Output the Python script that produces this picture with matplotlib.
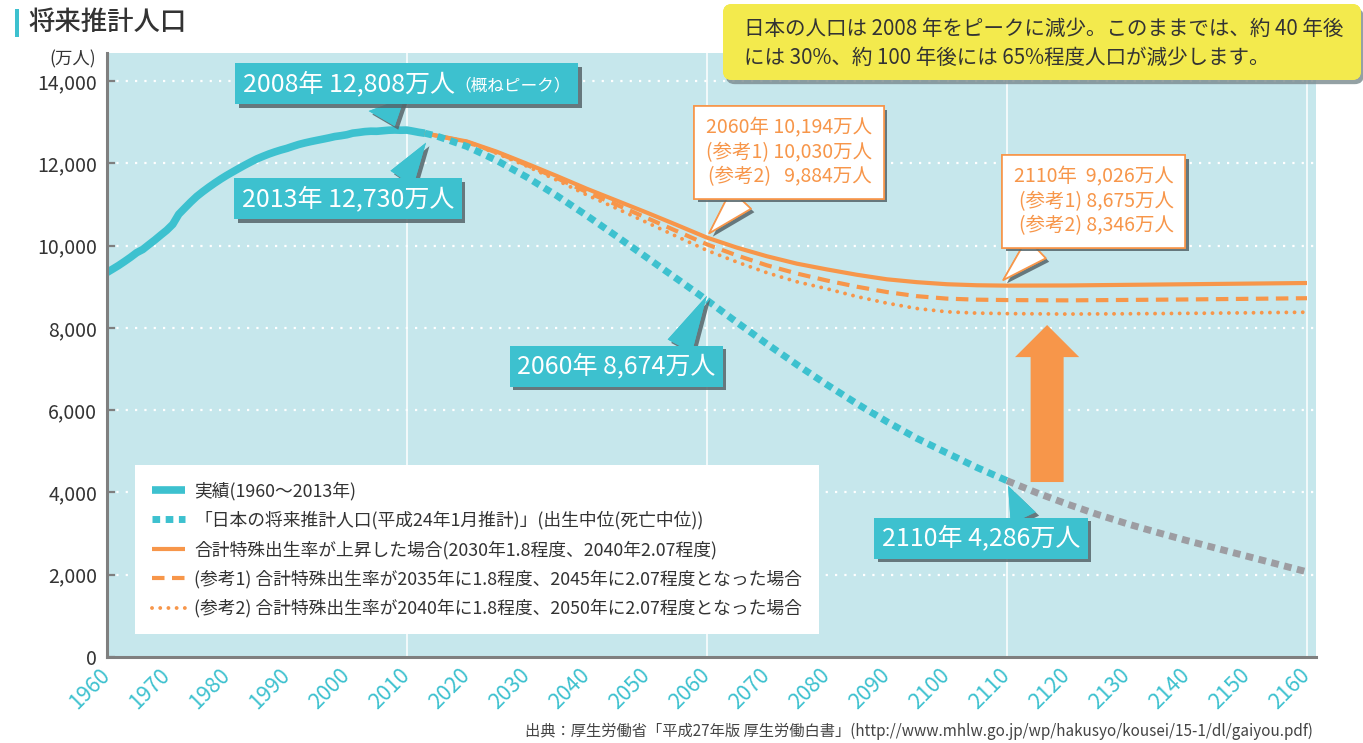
import matplotlib
matplotlib.use('Agg')
import matplotlib.pyplot as plt
import matplotlib.patheffects as pe
from matplotlib.patches import FancyBboxPatch, Rectangle
from matplotlib.transforms import IdentityTransform
from matplotlib.offsetbox import TextArea, HPacker, AnnotationBbox
from matplotlib.ticker import FuncFormatter

plt.rcParams['font.family'] = ['Noto Sans CJK JP', 'DejaVu Sans']

# ---------------- data (万人) ----------------
actual_years = list(range(1960, 2014))
actual_pop = [9342, 9429, 9518, 9616, 9718, 9828, 9904, 10020, 10133, 10254,
              10372, 10515, 10760, 10910, 11057, 11194, 11309, 11417, 11519, 11616,
              11706, 11790, 11873, 11954, 12031, 12105, 12166, 12224, 12275, 12321,
              12361, 12410, 12457, 12494, 12527, 12557, 12586, 12616, 12649, 12669,
              12693, 12732, 12749, 12769, 12779, 12777, 12790, 12803, 12808, 12803,
              12806, 12780, 12752, 12730]

proj_years = [2013, 2015, 2020, 2025, 2030, 2035, 2040, 2045, 2050, 2055, 2060,
              2065, 2070, 2075, 2080, 2085, 2090, 2095, 2100, 2105, 2110]
proj_pop = [12730, 12660, 12410, 12066, 11662, 11212, 10728, 10221, 9708, 9193, 8674,
            8135, 7610, 7106, 6620, 6157, 5720, 5314, 4959, 4606, 4286]

ext_years = [2110, 2115, 2120, 2125, 2130, 2135, 2140, 2145, 2150, 2155, 2160]
ext_pop = [4286, 3990, 3720, 3470, 3240, 3030, 2830, 2640, 2450, 2260, 2070]

scen_years = [2013, 2015, 2020, 2025, 2030, 2035, 2040, 2045, 2050, 2055, 2060,
              2065, 2070, 2075, 2080, 2085, 2090, 2095, 2100, 2105, 2110,
              2120, 2130, 2140, 2150, 2160]
high_pop = [12730, 12670, 12530, 12280, 11990, 11690, 11380, 11090, 10800, 10500, 10194,
            9950, 9740, 9560, 9420, 9290, 9180, 9110, 9060, 9035, 9026,
            9030, 9045, 9060, 9075, 9090]
ref1_pop = [12730, 12670, 12520, 12260, 11960, 11640, 11300, 10990, 10670, 10350, 10030,
            9760, 9520, 9320, 9150, 9000, 8870, 8770, 8710, 8685, 8675,
            8668, 8678, 8690, 8705, 8720]
ref2_pop = [12730, 12670, 12510, 12240, 11930, 11590, 11230, 10900, 10560, 10220, 9884,
            9600, 9340, 9120, 8950, 8760, 8600, 8470, 8390, 8358, 8346,
            8335, 8342, 8352, 8365, 8380]

x_ticks = list(range(1960, 2161, 10))
y_ticks = list(range(0, 14001, 2000))
v_grid_years = [2010, 2060, 2110, 2160]

legend_labels = [
    '実績(1960〜2013年)',
    '「日本の将来推計人口(平成24年1月推計)」(出生中位(死亡中位))',
    '合計特殊出生率が上昇した場合(2030年1.8程度、2040年2.07程度)',
    '(参考1) 合計特殊出生率が2035年に1.8程度、2045年に2.07程度となった場合',
    '(参考2) 合計特殊出生率が2040年に1.8程度、2050年に2.07程度となった場合',
]

# ---------------- style ----------------
TEAL = '#3dc1cf'
ORANGE = '#f7964a'
BG = '#c6e7ec'
GRAY = '#9d9da2'
DARK = '#333333'
SPINE = '#7f7f7f'

fig = plt.figure(figsize=(13.63, 7.43), dpi=100)
ax = fig.add_axes([0.0783, 0.1157, 0.8872, 0.8130])
ax.set_facecolor(BG)
ax.set_xlim(1960, 2161.5)
ax.set_ylim(0, 14680)

for s in ('top', 'right'):
    ax.spines[s].set_visible(False)
for s in ('left', 'bottom'):
    ax.spines[s].set_color(SPINE)
    ax.spines[s].set_linewidth(2.2)
    ax.spines[s].set_zorder(10)

# grid
for yv in y_ticks[1:]:
    ax.axhline(yv, color='white', lw=1.6, ls=(0, (1, 3.2)), zorder=1)
for xv in v_grid_years:
    ax.axvline(xv, color='white', lw=1.1, zorder=1)

# ticks
ax.set_yticks(y_ticks)
ax.yaxis.set_major_formatter(FuncFormatter(lambda v, p: f'{int(v):,}'))
ax.tick_params(axis='y', direction='in', length=6, width=1.6, color=SPINE,
               labelsize=14, labelcolor=DARK, pad=7)
ax.set_xticks(x_ticks)
ax.set_xticklabels([str(t) for t in x_ticks])
ax.tick_params(axis='x', length=0, labelsize=15.5, labelcolor=TEAL, pad=11,
               labelrotation=45)
for lab in ax.get_xticklabels():
    lab.set_ha('right')
    lab.set_va('center')
    lab.set_rotation_mode('anchor')

# lines
l_high, = ax.plot(scen_years, high_pop, color=ORANGE, lw=3, zorder=3,
                  solid_capstyle='butt')
l_ref1, = ax.plot(scen_years, ref1_pop, color=ORANGE, lw=3, ls=(0, (3, 1.8)),
                  zorder=3, dash_capstyle='butt')
l_ref2, = ax.plot(scen_years, ref2_pop, color=ORANGE, lw=2.8, ls=(0, (0.01, 2.1)),
                  zorder=3, dash_capstyle='round')
ax.plot(ext_years, ext_pop, color=GRAY, lw=5, ls=(0, (1.1, 0.8)), zorder=4,
        dash_capstyle='butt')
l_proj, = ax.plot(proj_years, proj_pop, color=TEAL, lw=5, ls=(0, (1.1, 0.8)),
                  zorder=4, dash_capstyle='butt')
l_act, = ax.plot(actual_years, actual_pop, color=TEAL, lw=5.5, zorder=5,
                 solid_capstyle='butt', solid_joinstyle='round')

# big arrow
arrow_x = 2116.7
ax.arrow(arrow_x, 4253, 0, 8069 - 4253, width=5.5, head_width=10.7,
         head_length=780, length_includes_head=True, fc=ORANGE, ec='none', zorder=4)

# legend
leg = ax.legend([l_act, l_proj, l_high, l_ref1, l_ref2], legend_labels,
                loc='upper left', bbox_to_anchor=(0.0234, 0.318), borderaxespad=0,
                prop={'size': 12.8}, frameon=True, fancybox=False, framealpha=1,
                facecolor='white', edgecolor='none', handlelength=1.9,
                handletextpad=0.5, labelspacing=0.6, borderpad=0.93)
for t in leg.get_texts():
    t.set_color(DARK)
leg.set_zorder(8)

shadow = [pe.withSimplePatchShadow(offset=(2.5, -2.5), shadow_rgbFace='#55656a',
                                   alpha=0.85), pe.Normal()]


def callout(text, xy, xytext, relpos, fc, ec, tc, size, pad, tail, ma='center',
            lw=0, ls=1.05):
    ann = ax.annotate(text, xy=xy, xytext=xytext, textcoords='data', ha='center',
                      va='center', fontsize=size, color=tc, multialignment=ma,
                      linespacing=ls,
                      bbox=dict(boxstyle=f'square,pad={pad}', fc=fc, ec=ec, lw=lw),
                      arrowprops=dict(arrowstyle=f'wedge,tail_width={tail},shrink_factor=0.5',
                                      fc=fc, ec=ec, lw=lw, relpos=relpos,
                                      shrinkA=0, shrinkB=0),
                      zorder=9)
    ann.get_bbox_patch().set_path_effects(shadow)
    ann.arrow_patch.set_path_effects(shadow)
    return ann


# 2008 peak box (mixed sizes)
ta1 = TextArea('2008年 12,808万人', textprops=dict(color='white', fontsize=18))
ta2 = TextArea('（概ねピーク）', textprops=dict(color='white', fontsize=12))
pack = HPacker(children=[ta1, ta2], align='baseline', pad=0, sep=0)
ab = AnnotationBbox(pack, xy=(2008, 12900), xybox=(2010.0, 13930), xycoords='data',
                    boxcoords='data', box_alignment=(0.5, 0.5), fontsize=18,
                    bboxprops=dict(boxstyle='square,pad=0.3', fc=TEAL, ec='none'),
                    arrowprops=dict(arrowstyle='wedge,tail_width=1.1,shrink_factor=0.5',
                                    fc=TEAL, ec='none', relpos=(0.43, 0),
                                    shrinkA=0, shrinkB=0),
                    zorder=9)
ax.add_artist(ab)
ab.patch.set_path_effects(shadow)
ab.arrow_patch.set_path_effects(shadow)

callout('2013年 12,730万人', (2013.2, 12500), (2000.2, 11132), (0.73, 1.0),
        TEAL, 'none', 'white', 18, 0.3, 1.1)
callout('2060年 8,674万人', (2060, 8780), (2044.9, 7061), (0.80, 1.0),
        TEAL, 'none', 'white', 18, 0.3, 1.1)
callout('2110年 4,286万人', (2110.2, 4160), (2105.7, 2880), (0.73, 1.0),
        TEAL, 'none', 'white', 18, 0.3, 1.1)
callout('2060年 10,194万人\n(参考1) 10,030万人\n(参考2)   9,884万人', (2060.4, 10300),
        (2073.7, 12262), (0.28, 0.0), 'white', ORANGE, ORANGE, 14, 0.6, 1.4,
        ma='right', lw=1.2, ls=1.2)
callout('2110年  9,026万人\n(参考1) 8,675万人\n(参考2) 8,346万人', (2109.4, 9164),
        (2124.5, 11071), (0.22, 0.0), 'white', ORANGE, ORANGE, 14, 0.6, 1.4,
        ma='right', lw=1.2, ls=1.2)

# ---------------- figure decorations ----------------
fig.patches.append(Rectangle((15, 743 - 37), 4, 28, transform=IdentityTransform(),
                             fc=TEAL, ec='none', figure=fig))
fig.text(28 / 1363, 1 - 22 / 743, '将来推計人口', fontsize=19, color=DARK,
         va='center', ha='left', weight='medium')
fig.text(73 / 1363, 1 - 59 / 743, '(万人)', fontsize=12.5, color=DARK,
         va='center', ha='center')

ybox = FancyBboxPatch((723, 743 - 80), 638, 76, boxstyle='round,pad=0,rounding_size=9',
                      transform=IdentityTransform(), fc='#f3ea4d', ec='none', figure=fig,
                      zorder=20)
ybox.set_path_effects([pe.withSimplePatchShadow(offset=(2, -3), shadow_rgbFace='#7a8a8e',
                                                alpha=0.8), pe.Normal()])
fig.patches.append(ybox)
fig.text(744 / 1363, 1 - 29 / 743,
         '日本の人口は 2008 年をピークに減少。このままでは、約 40 年後',
         fontsize=14.8, color=DARK, va='center', ha='left', zorder=21)
fig.text(744 / 1363, 1 - 58 / 743,
         'には 30%、約 100 年後には 65%程度人口が減少します。',
         fontsize=14.8, color=DARK, va='center', ha='left', zorder=21)

fig.text(1313 / 1363, 1 - 731 / 743,
         '出典：厚生労働省「平成27年版 厚生労働白書」(http://www.mhlw.go.jp/wp/hakusyo/kousei/15-1/dl/gaiyou.pdf)',
         fontsize=11, color='#444444', va='center', ha='right')

fig.savefig('out.png', dpi=100)
